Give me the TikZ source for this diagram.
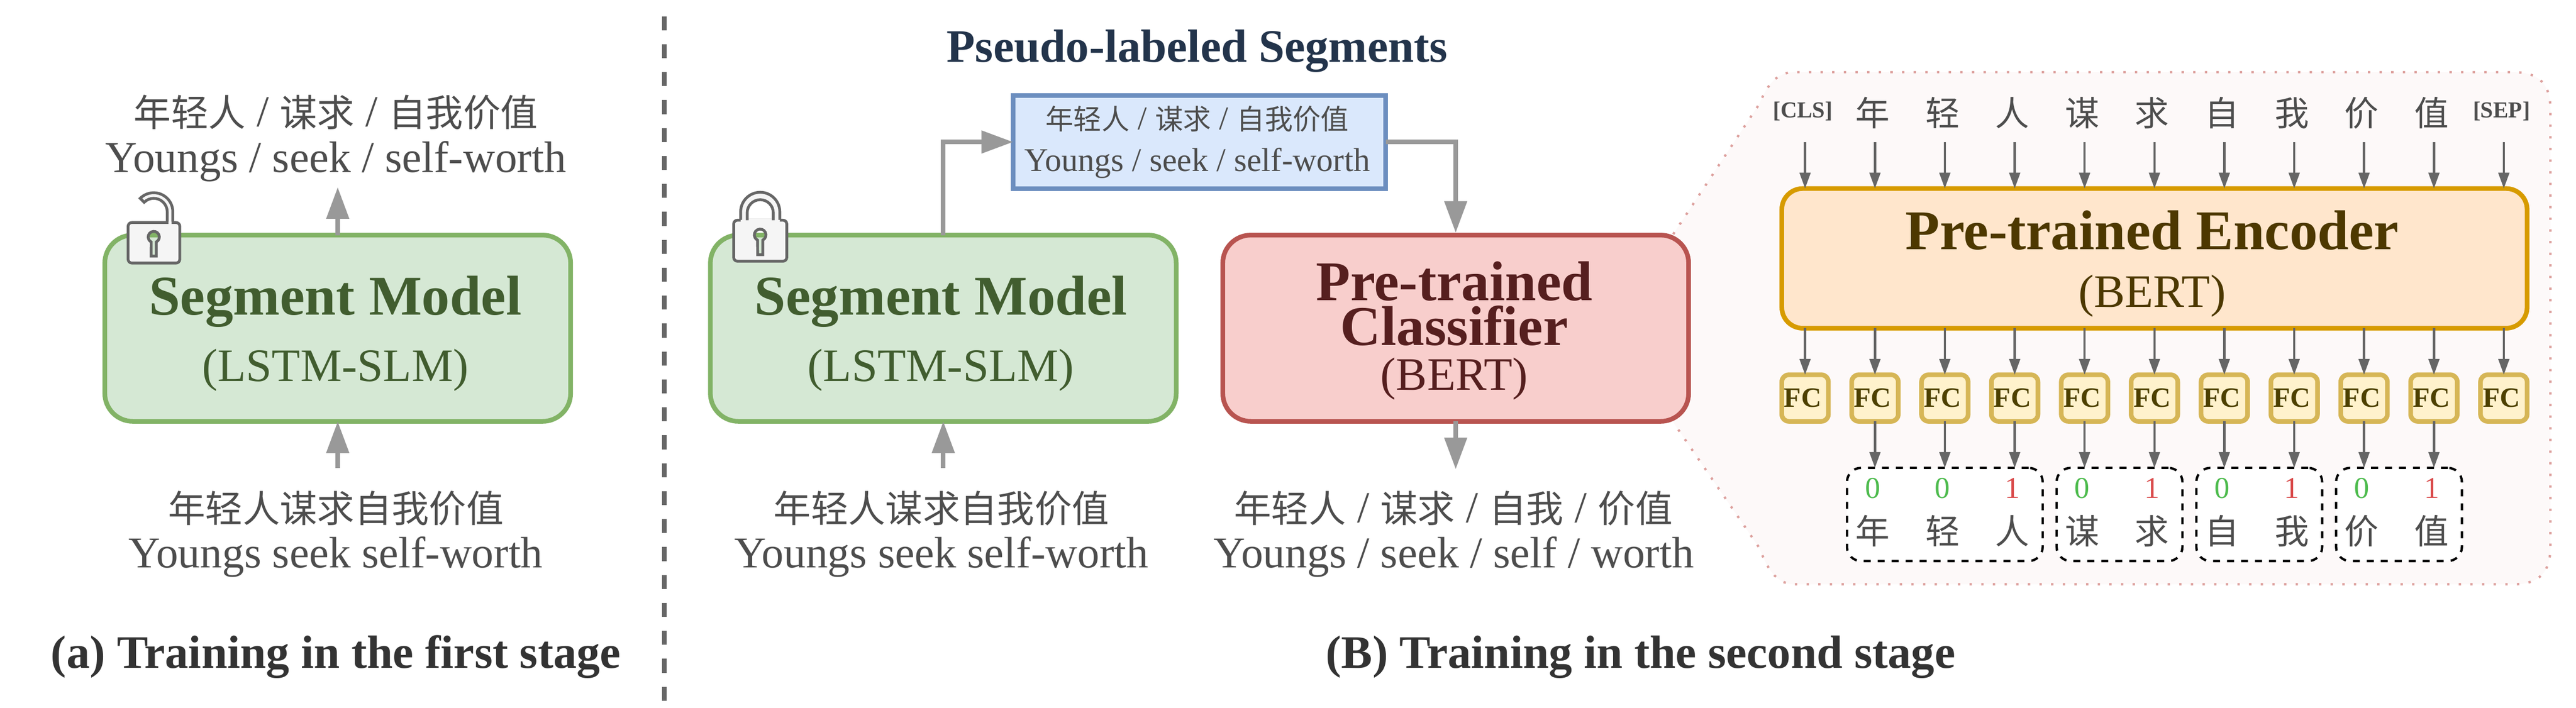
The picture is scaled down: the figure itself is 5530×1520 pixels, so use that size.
\documentclass[tikz,border=0pt]{standalone}
\usepackage{fontspec}
\setmainfont{Liberation Serif}
\newfontfamily\cjk[Scale=0.846]{Noto Sans CJK SC}
\usetikzlibrary{arrows.meta,calc}
\definecolor{gstroke}{HTML}{82B366}\definecolor{gfill}{HTML}{D5E8D4}\definecolor{gtext}{HTML}{415D2F}
\definecolor{rstroke}{HTML}{B85450}\definecolor{rfill}{HTML}{F8CECC}\definecolor{rtext}{HTML}{561F1F}
\definecolor{bstroke}{HTML}{6C8EBF}\definecolor{bfill}{HTML}{DAE8FC}
\definecolor{ostroke}{HTML}{D79B00}\definecolor{ofill}{HTML}{FFE6CC}\definecolor{otext}{HTML}{4D3800}
\definecolor{ystroke}{HTML}{D6B656}\definecolor{yfill}{HTML}{FFF2CC}\definecolor{ytext}{HTML}{4D4000}
\definecolor{lbltext}{HTML}{4D4D4D}\definecolor{title}{HTML}{23344B}\definecolor{captext}{HTML}{333333}
\definecolor{pfill}{HTML}{FDF9F9}\definecolor{pdots}{HTML}{DDA09D}
\definecolor{lockgray}{HTML}{666666}\definecolor{lockfill}{HTML}{F5F5F5}
\definecolor{zerogreen}{HTML}{4DBB4D}\definecolor{onered}{HTML}{D94A4A}
\definecolor{arrowgray}{HTML}{999999}
\tikzset{
  x=1pt,y=1pt,
  bigbox/.style={rounded corners=60pt,line width=10pt,minimum width=1000pt,minimum height=400pt,inner sep=0pt,outer sep=0pt,align=center,font=\fontsize{120.5}{98}\selectfont},
  greenbox/.style={bigbox,draw=gstroke,fill=gfill,text=gtext},
  redbox/.style={bigbox,draw=rstroke,fill=rfill,text=rtext,font=\fontsize{120.5}{96}\selectfont},
  bluebox/.style={draw=bstroke,fill=bfill,text=lbltext,line width=10pt,minimum width=800pt,minimum height=200pt,inner sep=0pt,outer sep=0pt,align=center,font=\fontsize{71}{90}\selectfont},
  encbox/.style={bigbox,rounded corners=45pt,draw=ostroke,fill=ofill,text=otext,minimum width=1600pt,minimum height=300pt,font=\fontsize{120.5}{124}\selectfont},
  fcbox/.style={draw=ystroke,fill=yfill,text=ytext,line width=10pt,rounded corners=15pt,minimum width=100pt,minimum height=100pt,inner sep=0pt,outer sep=0pt,font=\fontsize{60}{60}\selectfont\bfseries},
  segbox/.style={draw=black,fill=white,line width=5pt,rounded corners=30pt,dash pattern=on 15pt off 15pt,minimum height=200pt,inner sep=0pt,outer sep=0pt},
  lbl/.style={anchor=base,inner sep=0pt,text=lbltext,font=\fontsize{94.6}{94.6}\selectfont},
  smalllbl/.style={lbl,font=\fontsize{87}{87}\selectfont},
  tokenlbl/.style={lbl,font=\fontsize{49}{49}\selectfont\bfseries},
  digit/.style={anchor=base,inner sep=0pt,font=\fontsize{65}{65}\selectfont},
  caption/.style={anchor=base,inner sep=0pt,text=captext,font=\fontsize{100}{100}\selectfont\bfseries},
  grayarrow/.style={color=arrowgray,line width=10pt,-{Triangle[length=68pt,width=47pt]}},
  thinarrow/.style={color=lockgray,line width=5pt,-{Triangle[length=34pt,width=23pt]}},
  lockline/.style={draw=lockgray,line width=6pt},
}
\begin{document}
\begin{tikzpicture}
\useasboundingbox (0,0) rectangle (5530,-1520);
\fill[white] (0,0) rectangle (5530,-1520);
% separator
\coordinate (sepTop) at (1426,-35);
\coordinate (sepBot) at (1426,-1505);
\draw[lockgray,line width=10pt,dash pattern=on 30pt off 30pt] (sepTop) -- (sepBot);
% zoom panel
\fill[pfill] (3592,-503) -- (3777,-223) .. controls (3795,-180) and (3815,-155) .. (3853,-155) -- (5395,-155) .. controls (5450,-155) and (5475,-180) .. (5475,-235) -- (5475,-1175) .. controls (5475,-1230) and (5450,-1255) .. (5395,-1255) -- (3853,-1255) .. controls (3815,-1255) and (3795,-1225) .. (3777,-1177) -- (3592,-907) -- cycle;
\draw[pdots,line width=5pt,dash pattern=on 5pt off 20pt] (3592,-503) -- (3777,-223) .. controls (3795,-180) and (3815,-155) .. (3853,-155) -- (5395,-155) .. controls (5450,-155) and (5475,-180) .. (5475,-235) -- (5475,-1175) .. controls (5475,-1230) and (5450,-1255) .. (5395,-1255) -- (3853,-1255) .. controls (3815,-1255) and (3795,-1225) .. (3777,-1177) -- (3592,-907);
% boxes
\node[greenbox] (segA) at (725,-705) {\rule{0pt}{106pt}\bfseries Segment Model\kern10pt\\[45pt]\fontsize{100}{98}\selectfont (LSTM-SLM)\kern10pt};
\node[greenbox] (segB) at (2025,-705) {\rule{0pt}{106pt}\bfseries Segment Model\kern10pt\\[45pt]\fontsize{100}{98}\selectfont (LSTM-SLM)\kern10pt};
\node[redbox] (clf) at (3125,-705) {\rule{0pt}{94pt}\bfseries Pre-trained\kern6pt\\\bfseries Classifier\kern6pt\\\fontsize{100}{96}\selectfont (BERT)\kern6pt};
\node[bluebox] (pseudo) at (2575,-305) {{\cjk 年轻人} / {\cjk 谋求} / {\cjk 自我价值}\kern10pt\\Youngs / seek / self-worth\kern10pt};
\node[encbox] (enc) at (4625,-555) {\rule{0pt}{107pt}\bfseries Pre-trained Encoder\kern10pt\\\fontsize{100}{98}\selectfont (BERT)\kern10pt};
% free text
\node[lbl] (aTopZh) at (721,-272) {{\cjk 年轻人} / {\cjk 谋求} / {\cjk 自我价值}};
\node[lbl] (aTopEn) at (721,-370) {Youngs / seek / self-worth};
\node[lbl] (aInZh) at (721,-1122) {\cjk 年轻人谋求自我价值};
\node[lbl] (aInEn) at (721,-1219) {Youngs seek self-worth};
\node[lbl] (bInZh) at (2021,-1122) {\cjk 年轻人谋求自我价值};
\node[lbl] (bInEn) at (2021,-1219) {Youngs seek self-worth};
\node[lbl] (bOutZh) at (3120,-1122) {{\cjk 年轻人} / {\cjk 谋求} / {\cjk 自我} / {\cjk 价值}};
\node[lbl] (bOutEn) at (3121,-1219) {Youngs / seek / self / worth};
\node[anchor=base,inner sep=0pt,text=title,font=\fontsize{100}{100}\selectfont\bfseries] (pseudoTitle) at (2570,-133) {Pseudo-labeled Segments};
\node[caption] (capA) at (721,-1435) {(a) Training in the first stage};
\node[caption] (capB) at (3522,-1435) {(B) Training in the second stage};
% main arrows
\coordinate (aUp) at (725,-402);
\coordinate (aIn) at (725,-1005);
\coordinate (bIn) at (2025,-1005);
\coordinate (cOut) at (3125,-1008);
\draw[grayarrow] (segA.north) -- (aUp);
\draw[grayarrow] (aIn) -- (segA.south);
\draw[grayarrow] (bIn) -- (segB.south);
\draw[grayarrow] (segB.north) |- (pseudo.west);
\draw[grayarrow,shorten >=5pt] (pseudo.east) -| (clf.north);
\draw[grayarrow] (clf.south) -- (cOut);
% open lock
\fill[lockfill] (371,-480) -- (371,-455) arc[start angle=0,end angle=135,radius=41] -- (309.5,-434.5) arc[start angle=135,end angle=0,radius=29] -- (359,-480) -- cycle;
\draw[lockline,fill=lockfill,even odd rule,rounded corners=8pt] (275,-478) rectangle (386,-565) [sharp corners] (335.5,-519.7) arc[start angle=-63,end angle=243,radius=12] -- (324.5,-550) -- (335.5,-550) -- cycle;
\fill[lockfill] (362,-470) rectangle (368,-482);
\draw[lockline] (371,-476) -- (371,-455) arc[start angle=0,end angle=135,radius=41] -- (309.5,-434.5) arc[start angle=135,end angle=0,radius=29] -- (359,-476);
% closed lock
\draw[lockline,fill=lockfill,even odd rule,rounded corners=8pt] (1575,-473) rectangle (1689,-561) [sharp corners] (1637.5,-515.7) arc[start angle=-63,end angle=243,radius=12.5] -- (1626.5,-547) -- (1637.5,-547) -- cycle;
\fill[lockfill,even odd rule] (1590,-480) -- (1590,-455) arc[start angle=180,end angle=0,radius=42] -- (1674,-480) -- cycle (1604,-470) -- (1604,-457) arc[start angle=180,end angle=0,radius=28] -- (1660,-470) -- cycle;
\draw[lockline] (1590,-472) -- (1590,-455) arc[start angle=180,end angle=0,radius=42] -- (1674,-472);
\draw[lockline] (1604,-473) -- (1604,-457) arc[start angle=180,end angle=0,radius=28] -- (1660,-473);
% dashed segment groups
\node[segbox,minimum width=420pt] (g1) at (4175,-1105) {};
\node[segbox,minimum width=270pt] (g2) at (4550,-1105) {};
\node[segbox,minimum width=270pt] (g3) at (4850,-1105) {};
\node[segbox,minimum width=270pt] (g4) at (5150,-1105) {};
% columns
\foreach \i/\tok in {1/年,2/轻,3/人,4/谋,5/求,6/自,7/我,8/价,9/值}{
  \pgfmathsetmacro{\cx}{3875+150*\i}
  \node[smalllbl] (top\i) at (\cx-5,-270) {\cjk \tok};
  \node[smalllbl] (low\i) at (\cx-5,-1169) {\cjk \tok};
}
\node[tokenlbl] (top0) at (3870,-253) {[CLS]};
\node[tokenlbl] (top10) at (5370,-253) {[SEP]};
\foreach \i/\dig/\col in {1/0/zerogreen,2/0/zerogreen,3/1/onered,4/0/zerogreen,5/1/onered,6/0/zerogreen,7/1/onered,8/0/zerogreen,9/1/onered}{
  \pgfmathsetmacro{\cx}{3875+150*\i}
  \node[digit,text=\col] (dig\i) at (\cx-5,-1070) {\dig};
}
\foreach \i in {0,...,10}{
  \pgfmathsetmacro{\cx}{3875+150*\i}
  \coordinate (in\i) at (\cx,-305);
  \node[fcbox] (fc\i) at (\cx,-855) {FC\kern10pt};
  \draw[thinarrow] (in\i) -- (in\i |- enc.north);
  \draw[thinarrow] (fc\i.north |- enc.south) -- (fc\i.north);
}
\foreach \i/\grp in {1/g1,2/g1,3/g1,4/g2,5/g2,6/g3,7/g3,8/g4,9/g4}{
  \draw[thinarrow] (fc\i.south) -- (fc\i.south |- \grp.north);
}
\end{tikzpicture}
\end{document}
